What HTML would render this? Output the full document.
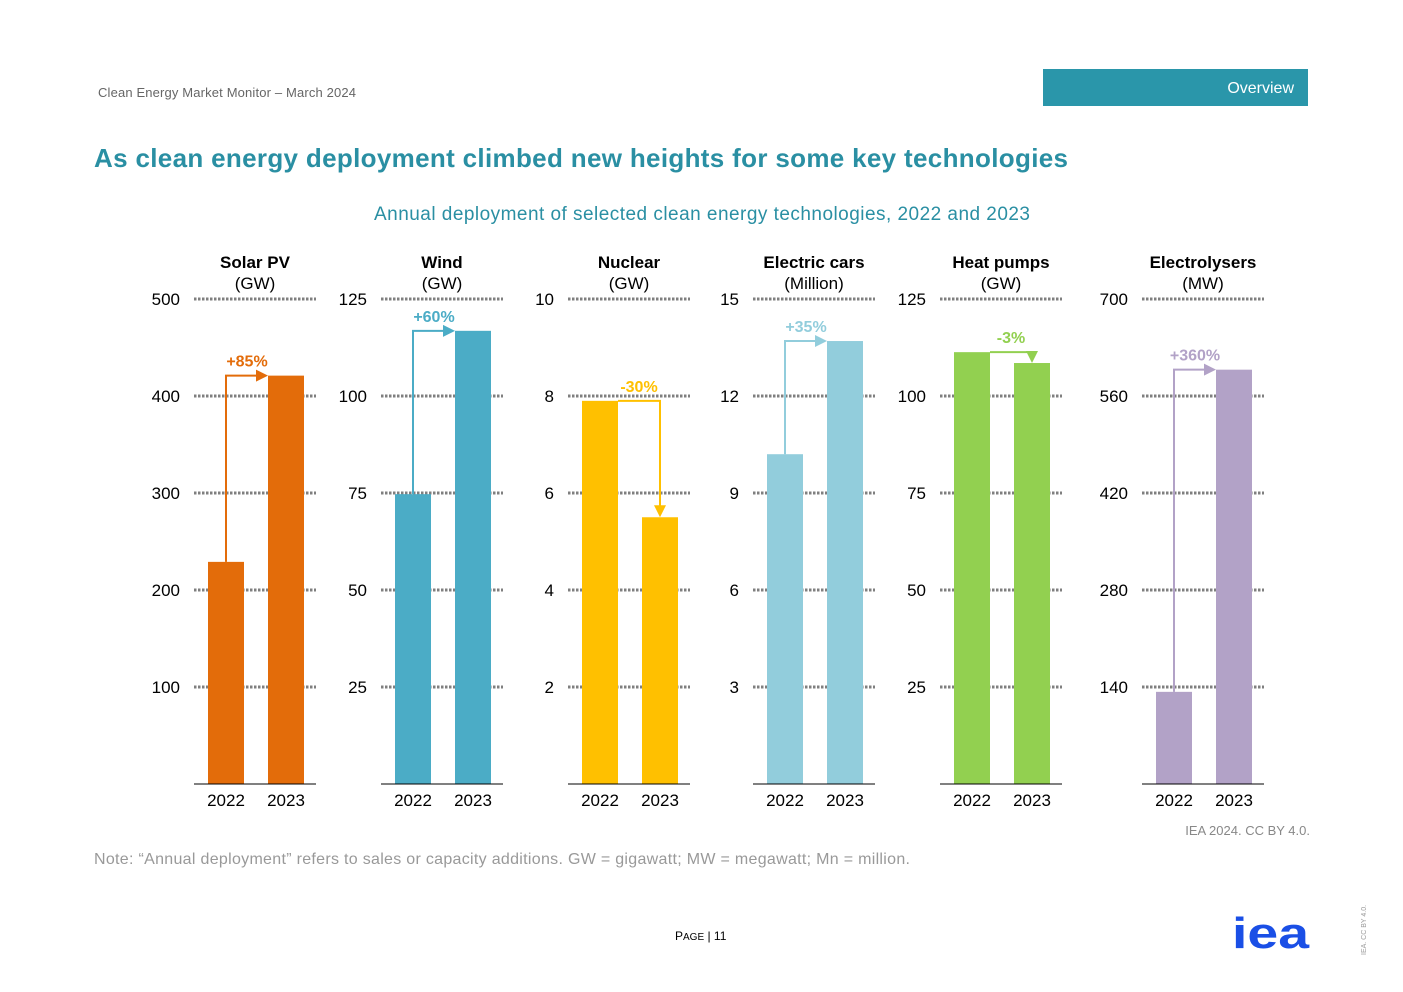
<!DOCTYPE html>
<html><head><meta charset="utf-8"><style>
html,body{margin:0;padding:0;background:#fff;}
svg{display:block;font-family:"Liberation Sans",Arial,sans-serif;}
</style></head><body>
<svg id="s" width="1403" height="992" viewBox="0 0 1403 992" xmlns="http://www.w3.org/2000/svg">
<text x="98" y="97" font-size="13" fill="#666" textLength="258">Clean Energy Market Monitor – March 2024</text>
<rect x="1043" y="69" width="265" height="37" fill="#2a96aa"/>
<text x="1294" y="93" font-size="16" fill="#fff" text-anchor="end">Overview</text>
<text x="94" y="167" font-size="26" font-weight="bold" fill="#2a8fa3" textLength="974">As clean energy deployment climbed new heights for some key technologies</text>
<text x="374" y="220" font-size="19" fill="#2a8fa3" textLength="656">Annual deployment of selected clean energy technologies, 2022 and 2023</text>
<g id="charts"></g>
<text x="1310" y="835" font-size="13" fill="#888" text-anchor="end">IEA 2024. CC BY 4.0.</text>
<text x="94" y="864" font-size="16" fill="#999" textLength="816">Note: “Annual deployment” refers to sales or capacity additions. GW = gigawatt; MW = megawatt; Mn = million.</text>
<text x="675" y="940" font-size="12" fill="#000">P<tspan font-size="10">AGE</tspan> | 11</text>
<text x="1232" y="948" font-size="44" font-weight="bold" fill="#1a4fe6" textLength="77" lengthAdjust="spacingAndGlyphs">iea</text>
<text x="1366" y="955" font-size="7" fill="#999" transform="rotate(-90 1366 955)">IEA. CC BY 4.0.</text>
</svg>
<script>
const titles=["Solar PV","Wind","Nuclear","Electric cars","Heat pumps","Electrolysers"];
const units=["(GW)","(GW)","(GW)","(Million)","(GW)","(MW)"];
const maxVals=[500,125,10,15,125,700];
const v2022=[229,74.7,7.9,10.2,111.3,133];
const v2023=[421,116.8,5.5,13.7,108.5,598];
const changes=["+85%","+60%","-30%","+35%","-3%","+360%"];
const colors=["#e36c0a","#4bacc6","#ffc000","#92cddc","#92d050","#b2a2c7"];
const years=["2022","2023"];
(function(){
const panelX=[194,381,568,753,940,1142];
const NS="http://www.w3.org/2000/svg";
const g=document.getElementById("charts");
const topY=299,base=784,H=base-topY;
function mk(t,a,p){const e=document.createElementNS(NS,t);for(const k in a)e.setAttribute(k,a[k]);(p||g).appendChild(e);return e;}
titles.forEach((t,i)=>{
  const x0=panelX[i],w=122;
  const y=v=>base-v/maxVals[i]*H;
  const grp=mk("g",{});
  
  
  const cx=x0+w/2;
  let e=mk("text",{x:cx,y:268,"font-size":17,"font-weight":"bold","text-anchor":"middle"},grp);e.textContent=t;
  
  
  e=mk("text",{x:cx,y:289,"font-size":17,"text-anchor":"middle"},grp);e.textContent=units[i];
  
  
  for(let k=1;k<=5;k++){
    const val=maxVals[i]*k/5,yy=y(val);
    e=mk("line",{x1:x0,x2:x0+w,y1:yy,y2:yy,stroke:"#7f7f7f","stroke-width":3,"stroke-dasharray":"2.5 1.5"},grp);
    
    
    e=mk("text",{x:x0-14,y:yy+6,"font-size":17,"text-anchor":"end"},grp);
    e.textContent=String(val);
    
    
  }
  const bx=[x0+14,x0+74],bw=36,vals=[v2022[i],v2023[i]];
  vals.forEach((v,j)=>{
    e=mk("rect",{x:bx[j],y:y(v),width:bw,height:base-y(v),fill:colors[i]},grp);
    
    
    e=mk("text",{x:bx[j]+bw/2,y:806,"font-size":17,"text-anchor":"middle"},grp);e.textContent=years[j];
    
    
  });
  e=mk("line",{x1:x0,x2:x0+w,y1:base,y2:base,stroke:"#000","stroke-width":1},grp);
  
  
  const c1=bx[0]+bw/2,c2=bx[1]+bw/2,t1=y(vals[0]),t2=y(vals[1]);
  let d,head,ly,lx;
  if(vals[1]>vals[0]){
    const hy=t2;
    d=`M${c1},${t1} V${hy} H${bx[1]-10}`;
    head=`${bx[1]-12},${hy-6} ${bx[1]},${hy} ${bx[1]-12},${hy+6}`;
    ly=hy-9;lx=(c1+bx[1])/2;
  } else {
    d=`M${bx[0]+bw},${t1} H${c2} V${t2-10}`;
    head=`${c2-6},${t2-12} ${c2},${t2} ${c2+6},${t2-12}`;
    ly=t1-9;lx=(bx[0]+bw+c2)/2;
  }
  e=mk("path",{d:d,fill:"none",stroke:colors[i],"stroke-width":2},grp);
  
  
  e=mk("polygon",{points:head,fill:colors[i]},grp);
  
  
  e=mk("text",{x:lx,y:ly,"font-size":16,"font-weight":"bold",fill:colors[i],"text-anchor":"middle"},grp);
  e.textContent=changes[i];
  
  
});
})();
</script>
</body></html>
